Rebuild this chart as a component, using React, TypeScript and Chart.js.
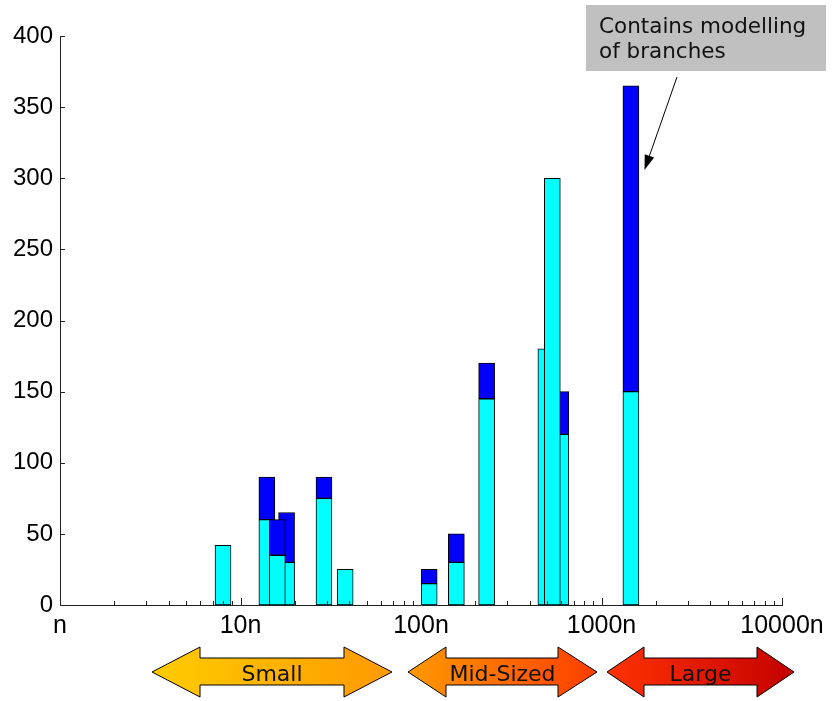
import { useEffect, useRef } from 'react';
import { Chart, registerables } from 'chart.js';

Chart.register(...registerables);

// Problem sizes (x, log scale) of each bar
const sizes = [8, 14, 16, 18, 29, 38, 111, 157, 231, 492, 534, 595, 1455];
// Lower (cyan) segment value of each bar
const lowerValues = [42, 60, 35, 30, 75, 25, 15, 30, 145, 180, 300, 120, 150];
// Total (top of blue segment) value of each bar
const totalValues = [42, 90, 60, 65, 90, 25, 25, 50, 170, 180, 300, 150, 365];
// Bars drawn behind their neighbours
const behind = [false, true, false, true, false, false, false, false, false, true, false, true, false];

const xTickValues = [1, 10, 100, 1000, 10000];
const xTickLabels = ['n', '10n', '100n', '1000n', '10000n'];
const sizeClasses = ['Small', 'Mid-Sized', 'Large'];
const noteLines = ['Contains modelling', 'of branches'];

const CYAN = '#00FFFF';
const BLUE = '#0000FF';

function layer(back: boolean, upper: boolean) {
  const out: { x: number; y: [number, number] }[] = [];
  sizes.forEach((s, i) => {
    if (behind[i] !== back) return;
    if (upper) {
      if (totalValues[i] > lowerValues[i]) out.push({ x: s, y: [lowerValues[i], totalValues[i]] });
    } else {
      out.push({ x: s, y: [0, lowerValues[i]] });
    }
  });
  return out;
}

const arrowGeom = [
  { x0: 152, h0: 200, h1: 344, x1: 392, c0: '#FFCC00', c1: '#FF9900' },
  { x0: 408, h0: 446, h1: 558, x1: 597, c0: '#FF9900', c1: '#FF3D00' },
  { x0: 607, h0: 644, h1: 757, x1: 794, c0: '#FF3300', c1: '#C40000' },
];

const decorPlugin = {
  id: 'decor',
  afterDraw(chart: any) {
    const ctx: CanvasRenderingContext2D = chart.ctx;
    const xs = chart.scales.x;
    const ys = chart.scales.y;
    const area = chart.chartArea;
    ctx.save();
    // tick marks (inward)
    ctx.strokeStyle = '#222';
    ctx.lineWidth = 1;
    ctx.beginPath();
    for (let d = 1; d < 10000; d *= 10) {
      for (let k = 1; k <= 10; k++) {
        const px = Math.round(xs.getPixelForValue(d * k)) + 0.5;
        const len = k === 1 || k === 10 ? 7 : 4;
        ctx.moveTo(px, area.bottom);
        ctx.lineTo(px, area.bottom - len);
      }
    }
    ys.ticks.forEach((t: any) => {
      const py = Math.round(ys.getPixelForValue(t.value)) + 0.5;
      ctx.moveTo(area.left, py);
      ctx.lineTo(area.left + 5, py);
    });
    ctx.stroke();

    // size class arrows
    const yt = 647, ys0 = 658, ym = 672, ys1 = 685, yb = 697;
    arrowGeom.forEach((g, i) => {
      const grad = ctx.createLinearGradient(g.x0, 0, g.x1, 0);
      grad.addColorStop(0, g.c0);
      grad.addColorStop(1, g.c1);
      ctx.beginPath();
      ctx.moveTo(g.x0, ym);
      ctx.lineTo(g.h0, yt);
      ctx.lineTo(g.h0, ys0);
      ctx.lineTo(g.h1, ys0);
      ctx.lineTo(g.h1, yt);
      ctx.lineTo(g.x1, ym);
      ctx.lineTo(g.h1, yb);
      ctx.lineTo(g.h1, ys1);
      ctx.lineTo(g.h0, ys1);
      ctx.lineTo(g.h0, yb);
      ctx.closePath();
      ctx.fillStyle = grad;
      ctx.fill();
      ctx.strokeStyle = '#000';
      ctx.lineWidth = 1;
      ctx.stroke();
      ctx.fillStyle = '#111';
      ctx.font = '22px "DejaVu Sans"';
      ctx.textAlign = 'center';
      ctx.textBaseline = 'alphabetic';
      ctx.fillText(sizeClasses[i], (g.x0 + g.x1) / 2, 681);
    });

    // note box
    ctx.fillStyle = '#C0C0C0';
    ctx.fillRect(586, 5, 240, 66);
    ctx.fillStyle = '#111';
    ctx.font = '21.5px "DejaVu Sans"';
    ctx.textAlign = 'left';
    ctx.fillText(noteLines[0], 599, 33);
    ctx.fillText(noteLines[1], 599, 58);

    // pointer arrow
    const ax0 = 677, ay0 = 77, ax1 = 644.5, ay1 = 170;
    const ang = Math.atan2(ay1 - ay0, ax1 - ax0);
    const hl = 15, hw = 5;
    const bx = ax1 - hl * Math.cos(ang), by = ay1 - hl * Math.sin(ang);
    ctx.strokeStyle = '#000';
    ctx.lineWidth = 1;
    ctx.beginPath();
    ctx.moveTo(ax0, ay0);
    ctx.lineTo(bx, by);
    ctx.stroke();
    ctx.beginPath();
    ctx.moveTo(ax1, ay1);
    ctx.lineTo(bx + hw * Math.sin(ang), by - hw * Math.cos(ang));
    ctx.lineTo(bx - hw * Math.sin(ang), by + hw * Math.cos(ang));
    ctx.closePath();
    ctx.fillStyle = '#000';
    ctx.fill();
    ctx.restore();
  },
};

export default function App() {
  const ref = useRef<HTMLCanvasElement>(null);
  useEffect(() => {
    if (!ref.current) return;
    const chart = new Chart(ref.current, {
      type: 'bar',
      data: {
        datasets: [
          { label: 'back lower', data: layer(true, false) as any, backgroundColor: CYAN, order: 4 },
          { label: 'back upper', data: layer(true, true) as any, backgroundColor: BLUE, order: 3 },
          { label: 'front lower', data: layer(false, false) as any, backgroundColor: CYAN, order: 2 },
          { label: 'front upper', data: layer(false, true) as any, backgroundColor: BLUE, order: 1 },
        ],
      },
      options: {
        responsive: false,
        animation: false,
        devicePixelRatio: 1,
        layout: { padding: { left: 0, right: 55, top: 36, bottom: 0 } },
        datasets: {
          bar: {
            grouped: false,
            barThickness: 16,
            borderWidth: 1,
            borderColor: '#000',
            borderSkipped: false,
          },
        },
        plugins: { legend: { display: false }, tooltip: { enabled: false } },
        scales: {
          x: {
            type: 'logarithmic',
            min: 1,
            max: 10000,
            offset: false,
            grid: { display: false, drawTicks: false },
            border: { display: true, color: '#222', width: 1 },
            afterBuildTicks: (scale: any) => {
              scale.ticks = xTickValues.map((v) => ({ value: v }));
            },
            afterFit: (scale: any) => {
              scale.height = 96;
            },
            ticks: {
              autoSkip: false,
              maxRotation: 0,
              padding: 6,
              color: '#000',
              font: { family: '"Liberation Sans", Arial', size: 25 },
              callback: (v: any) => {
                const i = xTickValues.indexOf(Number(v));
                return i >= 0 ? xTickLabels[i] : '';
              },
            },
          },
          y: {
            type: 'linear',
            min: 0,
            max: 400,
            grid: { display: false, drawTicks: false },
            border: { display: true, color: '#222', width: 1 },
            afterFit: (scale: any) => {
              scale.width = 60;
            },
            ticks: {
              stepSize: 50,
              padding: 7,
              color: '#000',
              font: { family: '"Liberation Sans", Arial', size: 24 },
            },
          },
        },
      },
      plugins: [decorPlugin],
    });
    return () => chart.destroy();
  }, []);
  return (
    <div style={{ position: 'absolute', left: 0, top: 0, width: 837, height: 701, background: '#fff' }}>
      <canvas ref={ref} width={837} height={701} />
    </div>
  );
}
